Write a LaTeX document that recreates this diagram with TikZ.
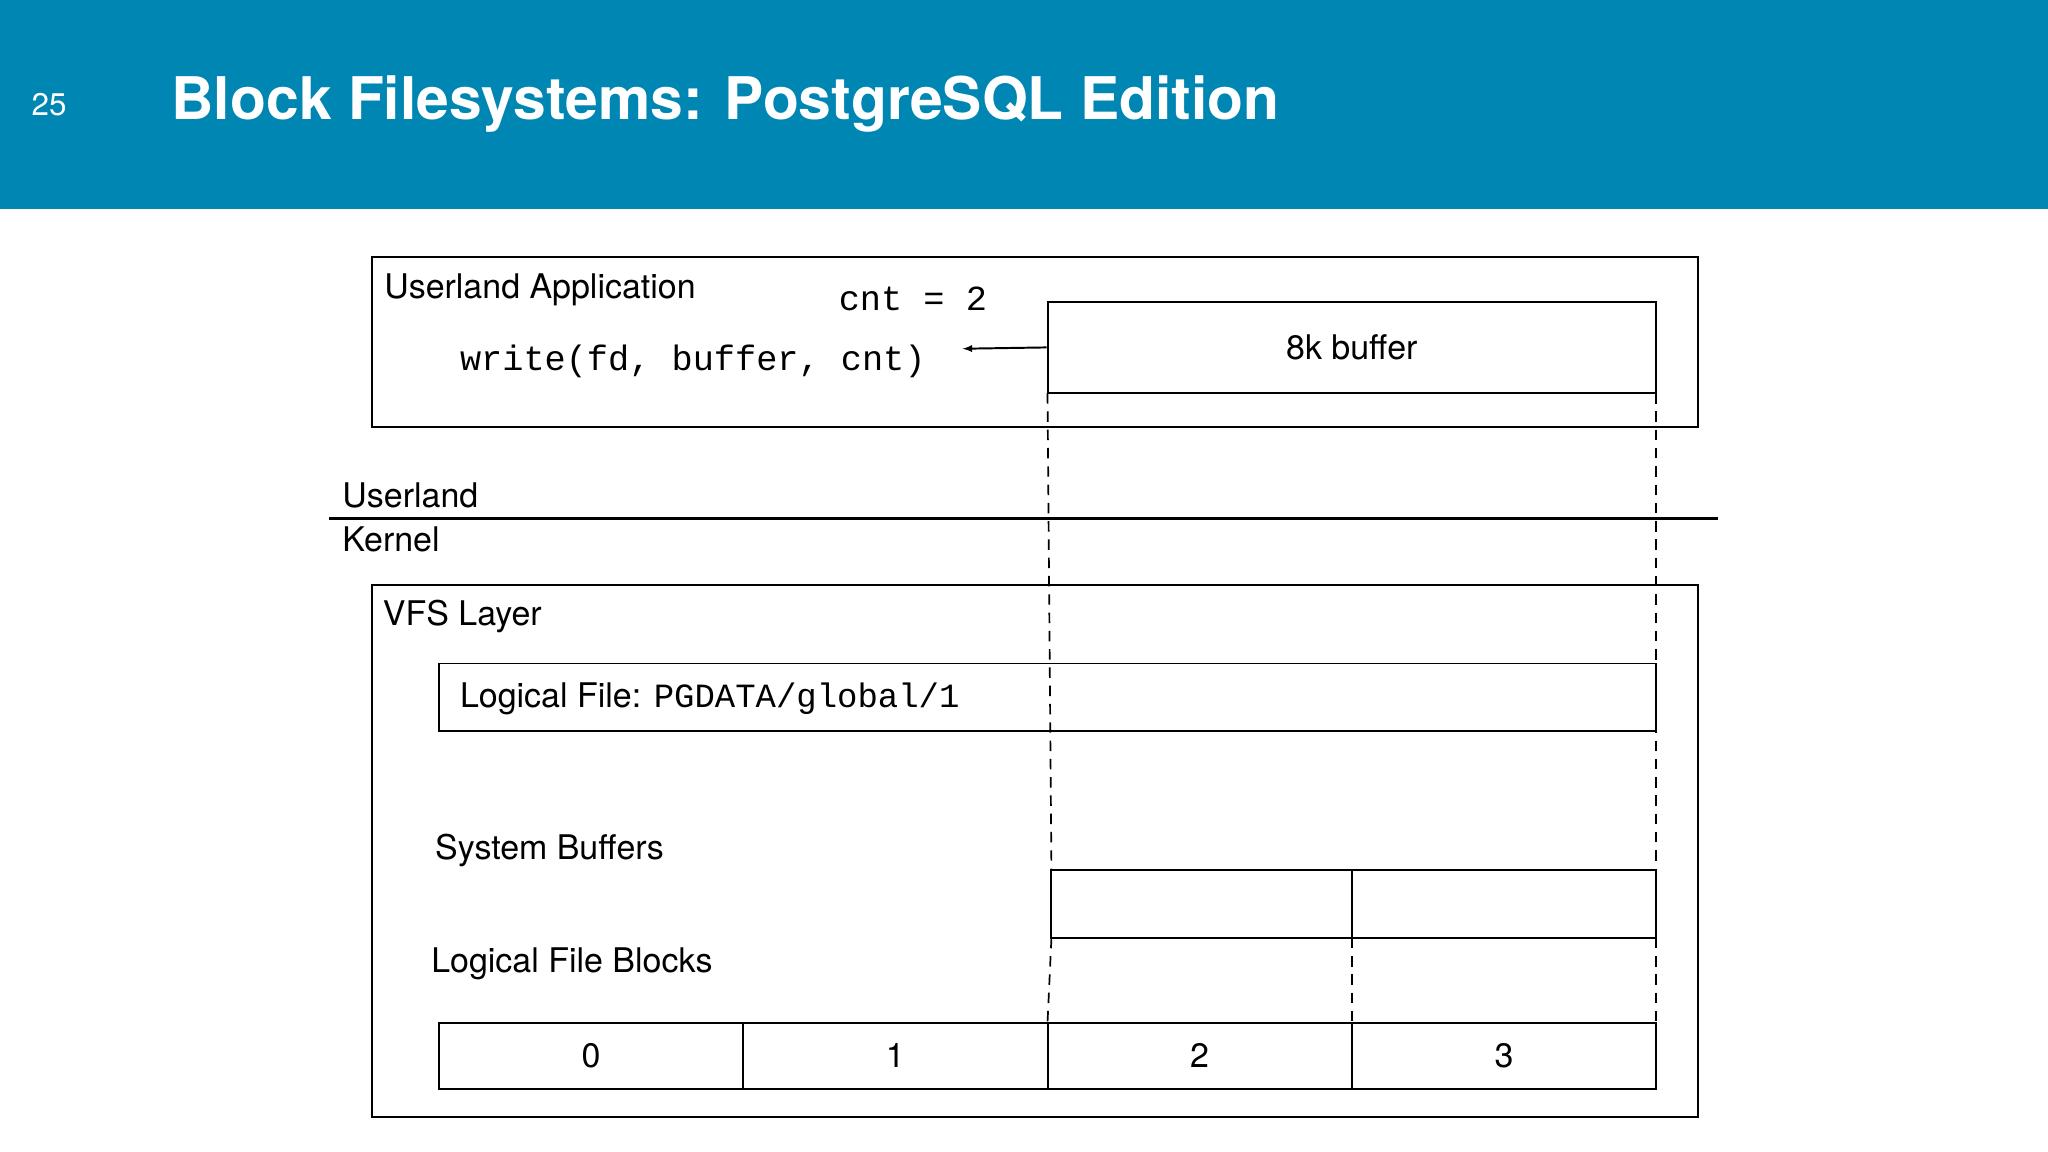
\documentclass[tikz,border=0pt]{standalone}
\usepackage{fontspec}
\setmainfont{TeX Gyre Heros}
\newfontfamily\monof{Liberation Mono}
\begin{document}
\begin{tikzpicture}[x=1pt,y=-1pt,
  box/.style={draw,line width=1.5pt},
  lbl/.style={anchor=west,inner sep=0pt,font=\fontsize{26}{30}\selectfont},
  code/.style={anchor=west,inner sep=0pt,font=\monof\fontsize{27}{30}\selectfont},
  dline/.style={dashed,line width=1.3pt,dash pattern=on 8pt off 6pt}]
\useasboundingbox (0,0) rectangle (1568,882);
\definecolor{hdr}{HTML}{0086B3}
\fill[hdr] (0,0) rectangle (1568,160);
\node[anchor=west,text=white,inner sep=0pt,font=\fontsize{24}{28}\selectfont] (num) at (24,80) {25};
\node[anchor=west,text=white,inner sep=0pt,font=\bfseries\fontsize{45}{50}\selectfont] (title) at (131,80) {Block Filesystems: PostgreSQL Edition};
% userland app
\draw[box] (285,197) rectangle (1300,327);
\node[lbl] (ua) at (294,222) {Userland Application};
\node[code] (cnt) at (642,229) {cnt = 2};
\node[code] (wr) at (352,277) {write(fd, buffer, cnt)};
\node[box,minimum width=466pt,minimum height=70pt,inner sep=0pt,font=\fontsize{26}{30}\selectfont] (buf) at (1035,266) {8k buffer};
\draw[-latex,line width=1.5pt] (buf.west) -- (737,267);
% boundary
\node[lbl] (ul) at (262,379) {Userland};
\draw[line width=3pt] (252,397) -- (1315,397);
\node[lbl] (kn) at (262,413) {Kernel};
% VFS
\draw[box] (285,448) rectangle (1300,855);
\node[lbl] (vfs) at (293,472) {VFS Layer};
\draw[box] (336,508) rectangle (1268,560);
\node[lbl] (lf) at (352,535) {Logical File: {\monof PGDATA/global/1}};
\node[lbl] (sb) at (333,651) {System Buffers};
\draw[box] (805,666) rectangle (1035,718);
\draw[box] (1035,666) rectangle (1268,718);
\node[lbl] (lfb) at (330,738) {Logical File Blocks};
\foreach \a/\b/\t in {336/569/0,569/802/1,802/1035/2,1035/1268/3}{
  \draw[box] (\a,783) rectangle (\b,834);
  \node[font=\fontsize{26}{30}\selectfont] at ({(\a+\b)/2},808) {\t};
}
% dashed
\draw[dline] (802,301) -- (805,666);
\draw[dline] (1268,301) -- (1268,666);
\draw[dline] (805,718) -- (802,783);
\draw[dline] (1035,718) -- (1035,783);
\draw[dline] (1268,718) -- (1268,783);
\end{tikzpicture}
\end{document}
